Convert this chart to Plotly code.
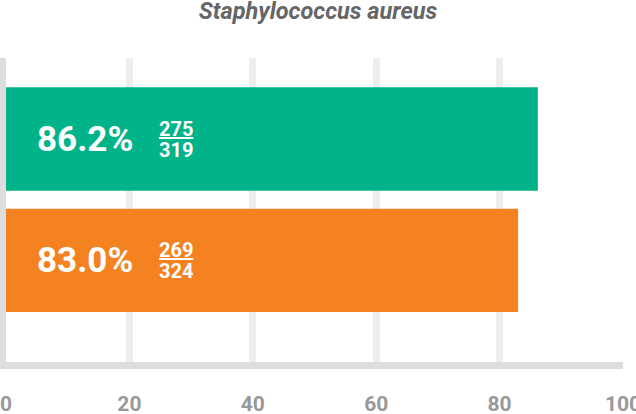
import plotly.graph_objects as go

title = "Staphylococcus aureus"
categories = ["A", "B"]
percents = [86.2, 83.0]
numerators = [275, 269]
denominators = [319, 324]
colors = ["#00B388", "#F58220"]
tick_vals = [0, 20, 40, 60, 80, 100]

fig = go.Figure()
fig.add_trace(go.Bar(
    y=categories, x=percents, orientation="h",
    marker=dict(color=colors, line=dict(width=0)),
    width=0.852, hoverinfo="skip",
))

for cat, p, n, d in zip(categories, percents, numerators, denominators):
    fig.add_annotation(x=0, y=cat, xref="x", yref="y", text=f"<b>{p:.1f}%</b>",
                       showarrow=False, xanchor="left", yanchor="middle", xshift=29,
                       font=dict(family="Roboto", size=35, color="white"))
    fig.add_annotation(x=0, y=cat, xref="x", yref="y", text=f"<b><u>{n}</u></b>",
                       showarrow=False, xanchor="left", yanchor="middle", xshift=151, yshift=10,
                       font=dict(family="Roboto", size=20, color="white"))
    fig.add_annotation(x=0, y=cat, xref="x", yref="y", text=f"<b>{d}</b>",
                       showarrow=False, xanchor="left", yanchor="middle", xshift=151, yshift=-11,
                       font=dict(family="Roboto", size=20, color="white"))

fig.update_layout(
    width=636, height=414,
    margin=dict(l=6, r=13, t=58, b=52, autoexpand=False),
    paper_bgcolor="white", plot_bgcolor="white",
    showlegend=False,
    title=dict(text=f"<i>{title}</i>", x=0.5, xanchor="center", y=1, yanchor="top",
               pad=dict(t=3, b=0, l=0, r=0),
               font=dict(family="Roboto", size=23.5, color="#666666", weight=700)),
    xaxis=dict(range=[0, 100], tickvals=tick_vals, showgrid=True, gridcolor="#EEEEEE", gridwidth=7,
               zeroline=False, showline=True, linecolor="#DDDDDD", linewidth=7,
               ticks="outside", ticklen=17, tickcolor="rgba(0,0,0,0)",
               tickfont=dict(family="Roboto", size=21, color="#999999", weight=700),
               automargin=False, ticklabeloverflow="allow",
               fixedrange=True),
    yaxis=dict(categoryorder="array", categoryarray=categories, range=[1.838, -0.668],
               showticklabels=False, showgrid=False, zeroline=False, automargin=False,
               showline=True, linecolor="#DDDDDD", linewidth=7, fixedrange=True),
    bargap=0.15,
)

fig.write_html("out.html", config={"displayModeBar": False},
               post_script="document.body.style.margin='0';document.body.style.overflow='hidden';")
